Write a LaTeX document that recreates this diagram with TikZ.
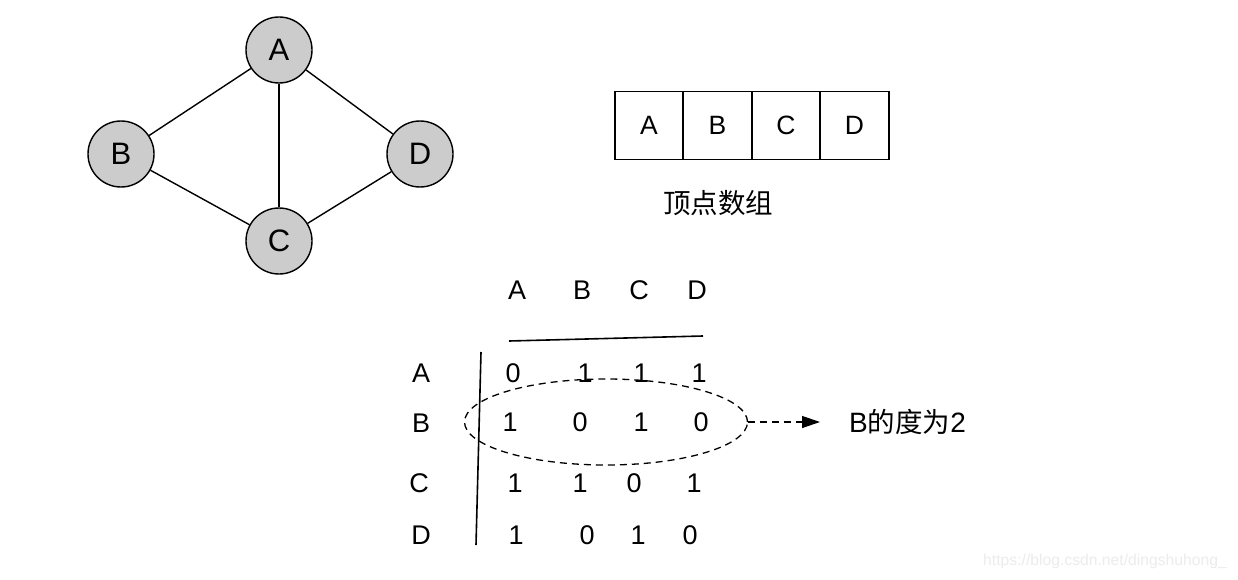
\documentclass[tikz,border=0pt]{standalone}
\usepackage{fontspec}
\setmainfont{Liberation Sans}
\newfontfamily\cjk{Noto Sans CJK SC}
\usetikzlibrary{arrows.meta,shapes.geometric}
\definecolor{nodegray}{RGB}{204,204,204}
\definecolor{wmgray}{RGB}{236,236,236}
\begin{document}
\begin{tikzpicture}[x=1pt,y=-1pt,
  vtx/.style={circle,draw=black,line width=1.4pt,fill=nodegray,minimum size=66pt,inner sep=0pt,font=\fontsize{31}{34}\selectfont},
  edge/.style={line width=1.4pt},
  cell/.style={draw=black,line width=1.6pt,minimum width=68.5pt,minimum height=68pt,inner sep=0pt,font=\fontsize{26.5}{30}\selectfont},
  mtxt/.style={inner sep=0pt,font=\fontsize{27}{30}\selectfont},
  cjktxt/.style={inner sep=0pt,font=\cjk\fontsize{27.5}{30}\selectfont}]
\useasboundingbox (0,0) rectangle (1238,580);
\fill[white] (0,0) rectangle (1238,580);
% graph
\node[vtx] (A) at (279,50) {A};
\node[vtx] (B) at (121,154) {B};
\node[vtx] (D) at (420,154) {D};
\node[vtx] (C) at (279,241) {C};
\draw[edge] (A) -- (B);
\draw[edge] (A) -- (C);
\draw[edge] (A) -- (D);
\draw[edge] (B) -- (C);
\draw[edge] (C) -- (D);
% vertex array
\node[cell] (c1) at (649,125.5) {A};
\node[cell] (c2) at (717.5,125.5) {B};
\node[cell] (c3) at (786,125.5) {C};
\node[cell] (c4) at (854.5,125.5) {D};
\node[cjktxt] (arrlabel) at (718,203) {顶点数组};
% matrix headers
\node[mtxt] (hA) at (517,290) {A};
\node[mtxt] (hB) at (582,290) {B};
\node[mtxt] (hC) at (639,290) {C};
\node[mtxt] (hD) at (697,290) {D};
\coordinate (h1) at (509,341);
\coordinate (h2) at (703,336);
\draw[line width=1.6pt] (h1) -- (h2);
\coordinate (v1) at (481,352);
\coordinate (v2) at (476,545);
\draw[line width=1.6pt] (v1) -- (v2);
% row labels
\node[mtxt] (rA) at (421,373) {A};
\node[mtxt] (rB) at (421,423) {B};
\node[mtxt] (rC) at (419,483) {C};
\node[mtxt] (rD) at (421,535) {D};
% entries
\node[mtxt] (a1) at (513,373) {0};
\node[mtxt] (a2) at (585,373) {1};
\node[mtxt] (a3) at (641,373) {1};
\node[mtxt] (a4) at (699,373) {1};
\node[mtxt] (b1) at (510,422) {1};
\node[mtxt] (b2) at (580,422) {0};
\node[mtxt] (b3) at (641,422) {1};
\node[mtxt] (b4) at (701,422) {0};
\node[mtxt] (c1e) at (515,483) {1};
\node[mtxt] (c2e) at (580,483) {1};
\node[mtxt] (c3e) at (634,483) {0};
\node[mtxt] (c4e) at (694,483) {1};
\node[mtxt] (d1) at (516,535) {1};
\node[mtxt] (d2) at (587,535) {0};
\node[mtxt] (d3) at (638,535) {1};
\node[mtxt] (d4) at (690,535) {0};
% ellipse and arrow
\node[ellipse,draw=black,line width=1.3pt,dash pattern=on 7pt off 5pt,minimum width=283pt,minimum height=86pt,inner sep=0pt] (ell) at (606,422) {};
\node[inner sep=0pt,anchor=west,font=\fontsize{28}{30}\selectfont] (deg) at (849,422) {B{\cjk\fontsize{27.5}{30}\selectfont 的度为}2};
\coordinate (tipend) at (820,422);
\draw[line width=1.3pt,dash pattern=on 7pt off 5pt,-{Triangle[length=18pt,width=12pt]}] (ell.east) -- (tipend);
% watermark
\node[inner sep=0pt,text=wmgray,font=\fontsize{15.7}{18}\selectfont] (wm) at (1105,561) {https://blog.csdn.net/dingshuhong\_};
\end{tikzpicture}
\end{document}
